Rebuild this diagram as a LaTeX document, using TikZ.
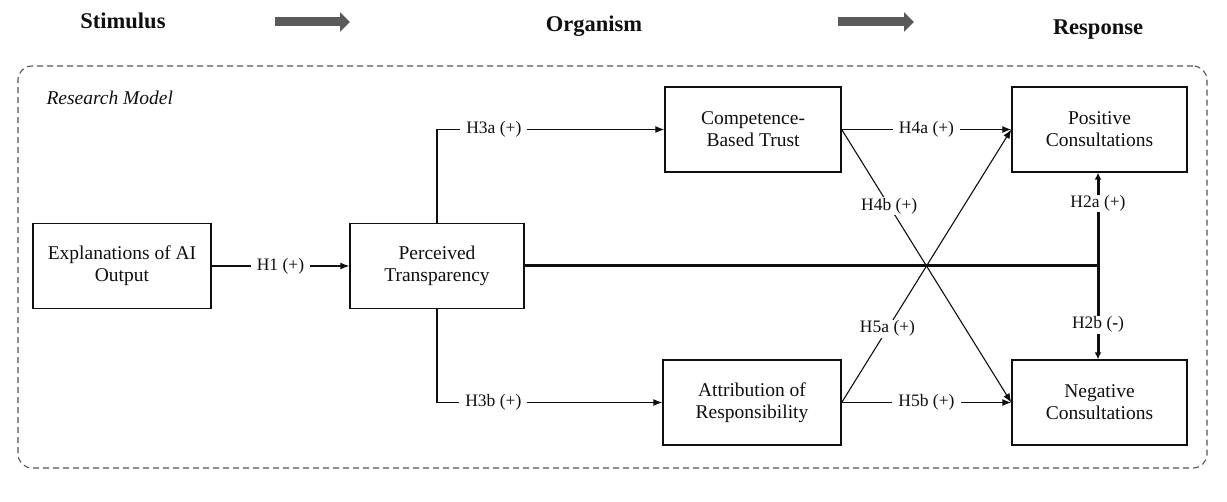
\documentclass[tikz,border=0pt]{standalone}
\usepackage{fontspec}
\setmainfont{Liberation Serif}
\usepackage{tikz}
\usetikzlibrary{arrows.meta, positioning, calc}
\definecolor{GrisFlecha}{RGB}{90,90,90}
\definecolor{GrisMarco} {RGB}{85,85,85}
\definecolor{Tinta}     {RGB}{15,15,15}

\begin{document}
\begin{tikzpicture}[x=1pt,y=-1pt,
    caja/.style={draw=Tinta,line width=1.4pt,minimum height=85pt,inner sep=0pt,align=center,
      text=Tinta,font=\fontsize{19.5}{22}\selectfont},
    hip/.style={fill=white,inner xsep=6pt,inner ysep=1pt,text=Tinta,font=\fontsize{17.5}{20}\selectfont},
    flecha/.style={draw=Tinta,line width=1.1pt,-{Latex[length=9pt,width=7pt]}},
    gruesa/.style={draw=Tinta,line width=3pt}]
  \useasboundingbox (0,0) rectangle (1227,502);

  % encabezado S-O-R
  \foreach \x/\y/\t/\n in {123/29/Stimulus/stim, 594/32/Organism/org, 1098/35/Response/resp}{
    \node[anchor=base,text=Tinta,font=\fontsize{22.5}{26}\selectfont\bfseries] (\n) at (\x,\y) {\t};
  }
  \foreach \xa/\xb/\n in {275/350/uno, 838/914/dos}{
    \coordinate (\n a) at (\xa,22);
    \coordinate (\n b) at (\xb,22);
    \draw[GrisFlecha,line width=9pt,-{Triangle[length=10pt,width=19pt]}] (\n a) -- (\n b);
  }

  % marco del modelo
  \node[draw=GrisMarco,line width=1.1pt,dash pattern=on 6pt off 4pt,rounded corners=14pt,
    minimum width=1189pt,minimum height=402pt] (marco) at (612.5,267) {};
  \node[anchor=base west,text=Tinta,font=\fontsize{19.5}{22}\selectfont\itshape] (titulo) at (43,105) {Research Model};

  % constructos
  \node[caja,minimum width=178pt] (EX) at (122,266)   {Explanations of AI\\Output};
  \node[caja,minimum width=174pt] (PT) at (437,266)   {Perceived\\Transparency};
  \node[caja,minimum width=176pt] (CT) at (753,129.5) {Competence-\\Based Trust};
  \node[caja,minimum width=178pt] (AR) at (752,402.5) {Attribution of\\Responsibility};
  \node[caja,minimum width=175pt] (PC) at (1099.5,129.5) {Positive\\Consultations};
  \node[caja,minimum width=175pt] (NC) at (1099.5,402.5) {Negative\\Consultations};

  % hipotesis
  \draw[flecha] (EX) -- node[hip]{H1 (+)} (PT);
  \draw[flecha] (PT.north) |- node[hip,pos=0.625]{H3a (+)} (CT.west);
  \draw[flecha] (PT.south) |- node[hip,pos=0.625]{H3b (+)} (AR.west);
  \draw[flecha] (CT.east) -- node[hip]{H4a (+)} (PC.west);
  \draw[flecha] (CT.east) -- node[hip,pos=0.28]{H4b (+)} (NC.west);
  \draw[flecha] (AR.east) -- node[hip,pos=0.27]{H5a (+)} (PC.west);
  \draw[flecha] (AR.east) -- node[hip]{H5b (+)} (NC.west);

  \coordinate (nudo) at (1098,266);
  \draw[gruesa] (PT.east) -- (nudo);
  \draw[gruesa,-{Latex[length=7pt,width=7pt]}] (nudo) -- node[hip,pos=0.67]{H2a (+)} (nudo |- PC.south);
  \draw[gruesa,-{Latex[length=7pt,width=7pt]}] (nudo) -- node[hip,pos=0.63]{H2b (\textbf{-})} (nudo |- NC.north);
\end{tikzpicture}
\end{document}
